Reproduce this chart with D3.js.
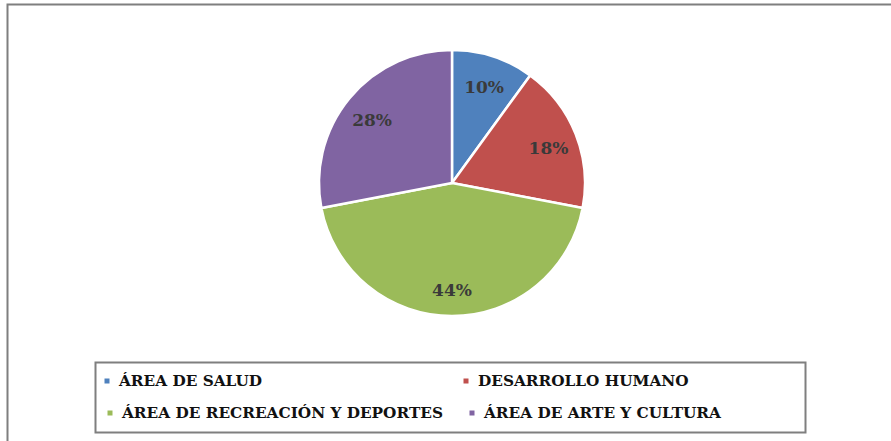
<!DOCTYPE html>
<html><head><meta charset="utf-8">
<script src="https://cdn.jsdelivr.net/npm/d3@7"></script>
<style>html,body{margin:0;padding:0;background:#fff;}svg{display:block;}
.sf{font-family:"DejaVu Serif","Liberation Serif",serif;font-weight:bold;}</style>
</head><body>
<svg id="c" width="891" height="441"></svg>
<script>
const categories = ["ÁREA DE SALUD","DESARROLLO HUMANO","ÁREA DE RECREACIÓN Y DEPORTES","ÁREA DE ARTE Y CULTURA"];
const values = [10, 18, 44, 28];
const colors = ["#4F81BD","#C0504D","#9BBB59","#8064A2"];

const svg = d3.select("#c");
svg.append("rect").attr("x",7.5).attr("y",4.5).attr("width",900).attr("height",460)
  .attr("fill","#fff").attr("stroke","#7f7f7f").attr("stroke-width",2);

const cx = 452, cy = 183, r = 133;
const pie = d3.pie().sort(null).value(d=>d);
const arcs = pie(values);
const arc = d3.arc().innerRadius(0).outerRadius(r);
const labelArc = d3.arc().innerRadius(r*0.78).outerRadius(r*0.78);
const g = svg.append("g").attr("transform",`translate(${cx},${cy})`);
g.selectAll("path").data(arcs).join("path")
  .attr("d",arc).attr("fill",(d,i)=>colors[i])
  .attr("stroke","#fff").attr("stroke-width",2.5);
const total = d3.sum(values);
g.selectAll("text").data(arcs).join("text").attr("class","sf")
  .attr("x",d=>labelArc.centroid(d)[0])
  .attr("y",d=>labelArc.centroid(d)[1]+3)
  .attr("text-anchor","middle").attr("dominant-baseline","central")
  .attr("font-size",17).attr("fill","#3a3a3a")
  .text(d=>Math.round(d.data/total*100)+"%");

svg.append("rect").attr("x",95.5).attr("y",362.5).attr("width",710).attr("height",70)
  .attr("fill","#fff").attr("stroke","#7f7f7f").attr("stroke-width",2);
const legPos = [[107,381],[466,381],[110,413],[472,413]];
const lg = svg.append("g");
categories.forEach((c,i)=>{
  const [x,y] = legPos[i];
  lg.append("rect").attr("x",x-2.5).attr("y",y-2.5).attr("width",5).attr("height",5).attr("fill",colors[i]);
  lg.append("text").attr("class","sf").attr("x",x+12).attr("y",y).attr("dominant-baseline","central")
    .attr("font-size",15.3).attr("fill","#111").text(c);
});
</script>
</body></html>
